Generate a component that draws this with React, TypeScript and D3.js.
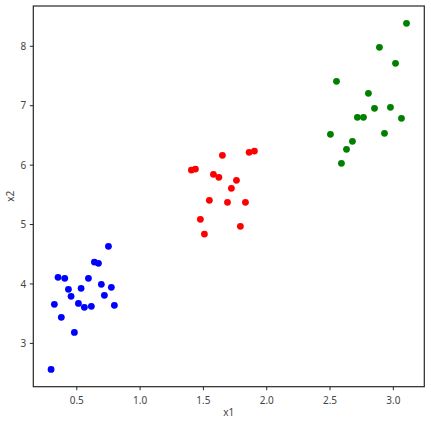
import React from "react";
import * as d3 from "d3";

const blueX = [0.297, 0.323, 0.352, 0.378, 0.405, 0.434, 0.455, 0.481, 0.513, 0.534, 0.560, 0.592, 0.615, 0.639, 0.671, 0.694, 0.718, 0.750, 0.773, 0.797];
const blueY = [2.562, 3.657, 4.111, 3.438, 4.094, 3.909, 3.791, 3.185, 3.673, 3.926, 3.606, 4.094, 3.623, 4.369, 4.347, 3.993, 3.808, 4.633, 3.943, 3.640];

const redX = [1.650, 1.861, 1.903, 1.405, 1.437, 1.579, 1.622, 1.761, 1.721, 1.547, 1.690, 1.832, 1.476, 1.792, 1.508];
const redY = [6.165, 6.215, 6.237, 5.916, 5.934, 5.845, 5.795, 5.744, 5.609, 5.407, 5.374, 5.374, 5.088, 4.970, 4.840];

const greenX = [3.104, 2.890, 3.017, 2.551, 2.803, 2.851, 2.977, 2.716, 2.764, 3.064, 2.503, 2.930, 2.677, 2.630, 2.590];
const greenY = [8.387, 7.983, 7.714, 7.411, 7.209, 6.956, 6.973, 6.805, 6.805, 6.788, 6.519, 6.535, 6.401, 6.266, 6.030];

const xTicks = [0.5, 1.0, 1.5, 2.0, 2.5, 3.0];
const yTicks = [3, 4, 5, 6, 7, 8];

const series = [
  { xs: blueX, ys: blueY, color: "#0000ff" },
  { xs: redX, ys: redY, color: "#ff0000" },
  { xs: greenX, ys: greenY, color: "#008000" },
];

const W = 431, H = 423;
const L = 33.3, R = 424.3, T = 6, B = 386.7;

export default function App() {
  const allX = [...blueX, ...redX, ...greenX];
  const allY = [...blueY, ...redY, ...greenY];
  const [x0, x1] = d3.extent(allX) as [number, number];
  const [y0, y1] = d3.extent(allY) as [number, number];
  const mx = (x1 - x0) * 0.05, my = (y1 - y0) * 0.05;
  const x = d3.scaleLinear().domain([x0 - mx, x1 + mx]).range([L, R]);
  const y = d3.scaleLinear().domain([y0 - my, y1 + my]).range([B, T]);
  const font = "'Noto Sans', sans-serif";
  const tc = "#444";
  return (
    <svg width={W} height={H} style={{ position: "absolute", left: 0, top: 0, background: "#fff" }}>
      {series.map((s, si) =>
        s.xs.map((v, i) => (
          <circle key={`${si}-${i}`} cx={x(v)} cy={y(s.ys[i])} r={3.4} fill={s.color} />
        ))
      )}
      <rect x={L} y={T} width={R - L} height={B - T} fill="none" stroke="#262626" strokeWidth={1.2} />
      {xTicks.map((t) => (
        <g key={`x${t}`}>
          <line x1={x(t)} x2={x(t)} y1={B} y2={B + 3.5} stroke="#262626" strokeWidth={1} />
          <text x={x(t)} y={B + 17} textAnchor="middle" fontFamily={font} fontSize={10} fill={tc}>
            {t.toFixed(1)}
          </text>
        </g>
      ))}
      {yTicks.map((t) => (
        <g key={`y${t}`}>
          <line x1={L - 3.5} x2={L} y1={y(t)} y2={y(t)} stroke="#262626" strokeWidth={1} />
          <text x={L - 7} y={y(t) + 3.6} textAnchor="end" fontFamily={font} fontSize={10} fill={tc}>
            {t}
          </text>
        </g>
      ))}
      <text x={(L + R) / 2} y={415.5} textAnchor="middle" fontFamily={font} fontSize={10} fill={tc}>x1</text>
      <text transform={`translate(14,${(T + B) / 2}) rotate(-90)`} textAnchor="middle" fontFamily={font} fontSize={10} fill={tc}>x2</text>
    </svg>
  );
}
